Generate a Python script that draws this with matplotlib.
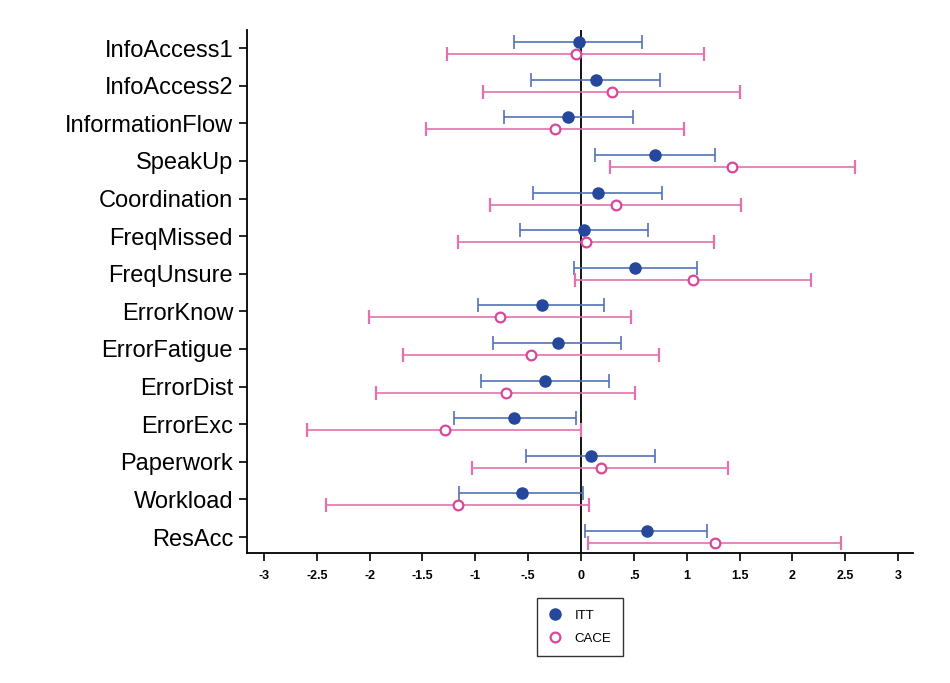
import numpy as np
import matplotlib
matplotlib.use("Agg")
import matplotlib.pyplot as plt
from matplotlib.lines import Line2D

plt.rcParams['font.family'] = ['Liberation Sans', 'DejaVu Sans']

# outcome labels, top to bottom
labels = ["InfoAccess1", "InfoAccess2", "InformationFlow", "SpeakUp", "Coordination",
          "FreqMissed", "FreqUnsure", "ErrorKnow", "ErrorFatigue", "ErrorDist",
          "ErrorExc", "Paperwork", "Workload", "ResAcc"]

# ITT estimates and 95% CI
itt = [-0.02, 0.14, -0.12, 0.70, 0.16, 0.03, 0.51, -0.37, -0.22, -0.34, -0.63, 0.09, -0.56, 0.62]
itt_lo = [-0.63, -0.47, -0.73, 0.13, -0.45, -0.58, -0.07, -0.97, -0.83, -0.95, -1.20, -0.52, -1.15, 0.04]
itt_hi = [0.58, 0.75, 0.49, 1.27, 0.77, 0.63, 1.10, 0.22, 0.38, 0.26, -0.05, 0.70, 0.02, 1.19]

# CACE estimates and 95% CI
cace = [-0.05, 0.29, -0.25, 1.43, 0.33, 0.05, 1.06, -0.77, -0.47, -0.71, -1.29, 0.19, -1.16, 1.27]
cace_lo = [-1.27, -0.93, -1.47, 0.27, -0.86, -1.16, -0.06, -2.01, -1.68, -1.94, -2.59, -1.03, -2.41, 0.07]
cace_hi = [1.16, 1.50, 0.97, 2.59, 1.51, 1.26, 2.18, 0.47, 0.74, 0.51, 0.00, 1.39, 0.08, 2.46]

xticks = [-3, -2.5, -2, -1.5, -1, -0.5, 0, 0.5, 1, 1.5, 2, 2.5, 3]
xticklabels = ["-3", "-2.5", "-2", "-1.5", "-1", "-.5", "0", ".5", "1", "1.5", "2", "2.5", "3"]

blue_pt = "#26489c"
blue_ln = "#5272b8"
pink_pt = "#d9479a"
pink_ln = "#e271ad"

fig = plt.figure(figsize=(9.5, 6.83), dpi=100)
ax = fig.add_axes([0.26, 0.19, 0.701, 0.766])

pos = np.arange(len(labels))
itt = np.array(itt); cace = np.array(cace)
itt_err = [itt - np.array(itt_lo), np.array(itt_hi) - itt]
cace_err = [cace - np.array(cace_lo), np.array(cace_hi) - cace]

ax.axvline(0, color="black", lw=1.3, zorder=1)

ax.errorbar(itt, pos - 0.16, xerr=itt_err, fmt="o", color=blue_pt, ecolor=blue_ln,
            elinewidth=1.2, capsize=5, capthick=1.2, markersize=8, zorder=3)
ax.errorbar(cace, pos + 0.16, xerr=cace_err, fmt="o", color=pink_pt, ecolor=pink_ln,
            mfc="white", mec=pink_pt, mew=1.6, elinewidth=1.2, capsize=5, capthick=1.2,
            markersize=7, zorder=3)

ax.set_xlim(-3.16, 3.14)
ax.set_ylim(len(labels) - 1 + 0.43, -0.48)
ax.set_yticks(pos)
ax.set_yticklabels(labels, fontsize=17)
ax.set_xticks(xticks)
ax.set_xticklabels(xticklabels, fontsize=9, fontweight="bold")
ax.tick_params(axis="y", length=6, width=1.2, pad=4)
ax.tick_params(axis="x", length=6, width=1.2, pad=6)

for s in ["top", "right"]:
    ax.spines[s].set_visible(False)
for s in ["left", "bottom"]:
    ax.spines[s].set_linewidth(1.3)

handles = [
    Line2D([], [], ls="none", marker="o", color=blue_pt, markersize=8),
    Line2D([], [], ls="none", marker="o", mfc="white", mec=pink_pt, mew=1.6, markersize=7),
]
leg = ax.legend(handles, ["ITT", "CACE"], loc="upper center", bbox_to_anchor=(0.5, -0.085),
                fontsize=9.5, frameon=True, fancybox=False, edgecolor="black",
                handlelength=1.0, handletextpad=1.0, borderpad=0.9, labelspacing=0.8,
                borderaxespad=0)
leg.get_frame().set_linewidth(1.0)

fig.savefig("out.png", dpi=100, facecolor="white")
